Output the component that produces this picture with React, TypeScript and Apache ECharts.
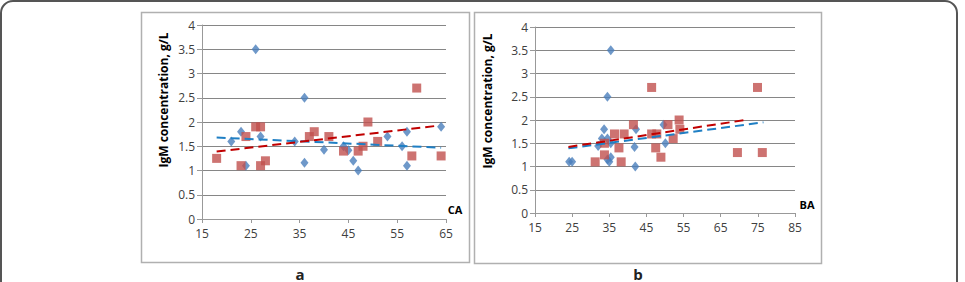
import React, { useEffect, useRef } from "react";
import * as echarts from "echarts";

// Panel a (CA)
const caBlue: number[][] = [
  [21, 1.6], [23, 1.8], [24, 1.1], [26, 3.5], [27, 1.7], [34, 1.6], [36, 2.5], [36, 1.16],
  [40, 1.43], [44, 1.5], [45, 1.42], [46, 1.2], [47, 1.0], [53, 1.7], [56, 1.5], [57, 1.8],
  [57, 1.1], [64, 1.9],
];
const caRed: number[][] = [
  [18, 1.25], [23, 1.1], [24, 1.7], [26, 1.9], [27, 1.9], [27, 1.1], [28, 1.2], [37, 1.7],
  [38, 1.8], [41, 1.7], [44, 1.4], [47, 1.4], [48, 1.5], [49, 2.0], [51, 1.6], [58, 1.3],
  [59, 2.7], [64, 1.3],
];
const caBlueTrend: number[][] = [[18, 1.68], [64, 1.47]];
const caRedTrend: number[][] = [[18, 1.39], [63, 1.92]];

// Panel b (BA)
const baBlue: number[][] = [
  [24.2, 1.1], [25, 1.1], [32, 1.44], [33, 1.6], [33.6, 1.8], [34.5, 2.5], [35.4, 3.5],
  [34.5, 1.6], [35.4, 1.5], [34.5, 1.15], [35, 1.1], [35.4, 1.2], [41.8, 1.42], [42.2, 1.8],
  [42, 1.0], [49.6, 1.9], [50.1, 1.5],
];
const baRed: number[][] = [
  [31.2, 1.1], [33.7, 1.5], [33.7, 1.25], [36.4, 1.7], [37.6, 1.4], [38.2, 1.1], [39, 1.7],
  [41.5, 1.9], [46.4, 2.7], [46.4, 1.7], [47.8, 1.7], [47.5, 1.4], [48.9, 1.2], [50.8, 1.9],
  [52.2, 1.6], [53.8, 2.0], [54, 1.8], [69.5, 1.3], [74.9, 2.7], [76.2, 1.3],
];
const baBlueTrend: number[][] = [[24, 1.39], [76.5, 1.95]];
const baRedTrend: number[][] = [[24, 1.42], [72.4, 2.01]];

const yTitle = "IgM concentration, g/L";
const FONT = "'Open Sans', sans-serif";
const BLUE = "#4A7EBB";
const RED = "#C0504D";

export default function App() {
  const ref = useRef<HTMLDivElement>(null);
  useEffect(() => {
    if (!ref.current) return;
    const chart = echarts.init(ref.current, null, { renderer: "svg" });
    const xAxisBase = (min: number, max: number) => ({
      type: "value" as const,
      min,
      max,
      interval: 10,
      axisLine: { show: true, lineStyle: { color: "#999", width: 1 } },
      axisTick: { show: true, length: 4, lineStyle: { color: "#999" } },
      splitLine: { show: false },
      axisLabel: { color: "#404040", fontSize: 12, fontFamily: FONT, margin: 8 },
    });
    const yAxisBase = () => ({
      type: "value" as const,
      min: 0,
      max: 4,
      interval: 0.5,
      axisLine: { show: true, lineStyle: { color: "#999", width: 1 } },
      axisTick: { show: true, length: 5, lineStyle: { color: "#999" } },
      splitLine: { show: true, lineStyle: { color: "#868686", width: 1 } },
      axisLabel: { color: "#404040", fontSize: 12, fontFamily: FONT, margin: 7 },
    });
    const scatter = (data: number[][], idx: number, color: string, symbol: string, size: number[]) => ({
      type: "scatter" as const,
      xAxisIndex: idx,
      yAxisIndex: idx,
      data,
      symbol,
      symbolSize: size,
      itemStyle: { color },
      z: 3,
    });
    const trend = (data: number[][], idx: number, color: string) => ({
      type: "line" as const,
      xAxisIndex: idx,
      yAxisIndex: idx,
      data,
      symbol: "none",
      lineStyle: { color, width: 2, type: [9, 5] as any },
      z: 4,
    });
    chart.setOption({
      animation: false,
      grid: [
        { left: 202, top: 25, width: 244, height: 194 },
        { left: 535, top: 27, width: 260, height: 186 },
      ],
      xAxis: [
        { ...xAxisBase(15, 65), gridIndex: 0 },
        { ...xAxisBase(15, 85), gridIndex: 1 },
      ],
      yAxis: [
        { ...yAxisBase(), gridIndex: 0 },
        { ...yAxisBase(), gridIndex: 1 },
      ],
      series: [
        scatter(caBlue, 0, BLUE, "diamond", [8, 10]),
        scatter(caRed, 0, RED, "rect", [9, 9]),
        trend(caBlueTrend, 0, "#1F7FC4"),
        trend(caRedTrend, 0, "#C00000"),
        scatter(baBlue, 1, BLUE, "diamond", [8, 10]),
        scatter(baRed, 1, RED, "rect", [9, 9]),
        trend(baBlueTrend, 1, "#1F7FC4"),
        trend(baRedTrend, 1, "#C00000"),
      ],
      graphic: [
        {
          type: "rect",
          shape: { x: 1, y: 1, width: 956, height: 300, r: 12 },
          style: { fill: "none", stroke: "#555", lineWidth: 2 },
          z: -1,
        },
        {
          type: "rect",
          shape: { x: 141.5, y: 12.5, width: 328, height: 250 },
          style: { fill: "none", stroke: "#b0b0b0", lineWidth: 1.5 },
          z: -1,
        },
        {
          type: "rect",
          shape: { x: 474.5, y: 12.5, width: 347, height: 251 },
          style: { fill: "none", stroke: "#b0b0b0", lineWidth: 1.5 },
          z: -1,
        },
        {
          type: "text",
          x: 163,
          y: 100,
          rotation: Math.PI / 2,
          style: {
            text: yTitle, fontSize: 12, fontWeight: "bold", fontFamily: FONT, fill: "#000",
            align: "center", verticalAlign: "middle",
          },
        },
        {
          type: "text",
          x: 487,
          y: 101,
          rotation: Math.PI / 2,
          style: {
            text: yTitle, fontSize: 12, fontWeight: "bold", fontFamily: FONT, fill: "#000",
            align: "center", verticalAlign: "middle",
          },
        },
        {
          type: "text", x: 455, y: 209,
          style: { text: "CA", fontSize: 11, fontWeight: "bold", fontFamily: FONT, fill: "#000", align: "center", verticalAlign: "middle" },
        },
        {
          type: "text", x: 807, y: 204,
          style: { text: "BA", fontSize: 11, fontWeight: "bold", fontFamily: FONT, fill: "#000", align: "center", verticalAlign: "middle" },
        },
        {
          type: "text", x: 300, y: 281,
          style: { text: "a", fontSize: 15, fontWeight: "bold", fontFamily: FONT, fill: "#222", align: "center", verticalAlign: "bottom" },
        },
        {
          type: "text", x: 638, y: 281,
          style: { text: "b", fontSize: 15, fontWeight: "bold", fontFamily: FONT, fill: "#222", align: "center", verticalAlign: "bottom" },
        },
      ],
    });
    return () => chart.dispose();
  }, []);
  return (
    <div
      ref={ref}
      style={{ position: "fixed", left: 0, top: 0, width: 965, height: 282, background: "#fff" }}
    />
  );
}
